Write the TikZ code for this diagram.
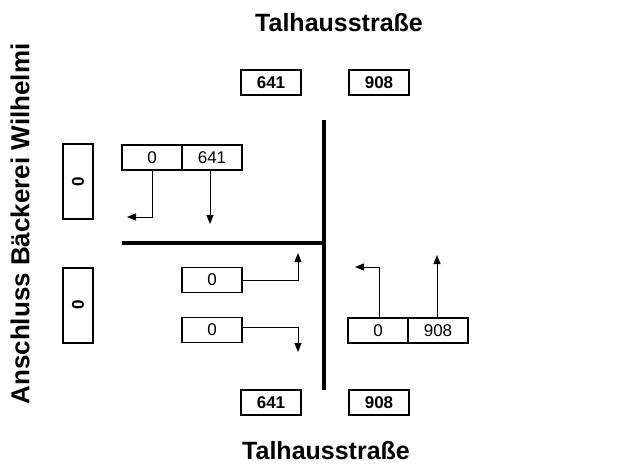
\documentclass[tikz,border=0pt]{standalone}
\usepackage{fontspec}
\setmainfont{Liberation Sans}
\usetikzlibrary{arrows.meta}
\begin{document}
\begin{tikzpicture}[x=1pt,y=-1pt,
  boldbox/.style={draw,line width=2pt,minimum width=60pt,minimum height=25pt,inner sep=0pt,font=\fontsize{17}{20}\selectfont\bfseries},
  cell/.style={draw,line width=1.2pt,minimum width=60pt,minimum height=25pt,inner sep=0pt,font=\fontsize{17}{20}\selectfont},
  sidebox/.style={draw,line width=2pt,minimum width=30pt,minimum height=75pt,inner sep=0pt,font=\fontsize{17}{20}\selectfont\bfseries},
  title/.style={font=\fontsize{25}{30}\selectfont\bfseries,inner sep=0pt},
  road/.style={line width=4pt},
  arr/.style={line width=1pt,-{Triangle[length=9pt,width=7pt]}}]
\useasboundingbox (0,0) rectangle (639,466);
% titles
\node[title,anchor=base west] (ttop) at (255,31.5) {Talhausstraße};
\node[title,anchor=base west] (tbot) at (242,459) {Talhausstraße};
\node[title,font=\fontsize{26}{30}\selectfont\bfseries,rotate=90] (tleft) at (20,224) {Anschluss Bäckerei Wilhelmi};
% roads
\coordinate (vt) at (324,120);
\coordinate (vb) at (324,390);
\coordinate (hl) at (122,243);
\coordinate (hr) at (326,243);
\draw[road] (vt) -- (vb);
\draw[road] (hl) -- (hr);
% bold count boxes
\node[boldbox] (t641) at (271,82.5) {641};
\node[boldbox] (t908) at (379,82.5) {908};
\node[boldbox] (b641) at (271,402.5) {641};
\node[boldbox] (b908) at (379,402.5) {908};
\node[sidebox] (s1) at (78,181.5) {\rotatebox{90}{0}};
\node[sidebox] (s2) at (78,305) {\rotatebox{90}{0}};
% top-left pair
\node[cell] (a0) at (152,157.5) {0};
\node[cell] (a1) at (212,157.5) {641};
\coordinate (a0c) at (152,217);
\coordinate (a0t) at (127,217);
\coordinate (a1t) at (210,224);
\draw[arr] (a0.south) -- (a0c) -- (a0t);
\draw[arr] (a0.south -| a1t) -- (a1t);
% middle-left boxes
\node[cell] (m1) at (212,280) {0};
\node[cell] (m2) at (212,330) {0};
\coordinate (m1c) at (298,280);
\coordinate (m1t) at (298,253);
\coordinate (m2s) at (242,327);
\coordinate (m2c) at (298,327);
\coordinate (m2t) at (298,352);
\draw[arr] (m1.east) -- (m1c) -- (m1t);
\draw[arr] (m2s) -- (m2c) -- (m2t);
% right pair
\node[cell] (r0) at (378,330.5) {0};
\node[cell] (r1) at (438,330.5) {908};
\coordinate (r0c) at (379,267);
\coordinate (r0t) at (355,267);
\coordinate (r1t) at (437,255);
\draw[arr] (r0.north -| r0c) -- (r0c) -- (r0t);
\draw[arr] (r0.north -| r1t) -- (r1t);
\end{tikzpicture}
\end{document}
